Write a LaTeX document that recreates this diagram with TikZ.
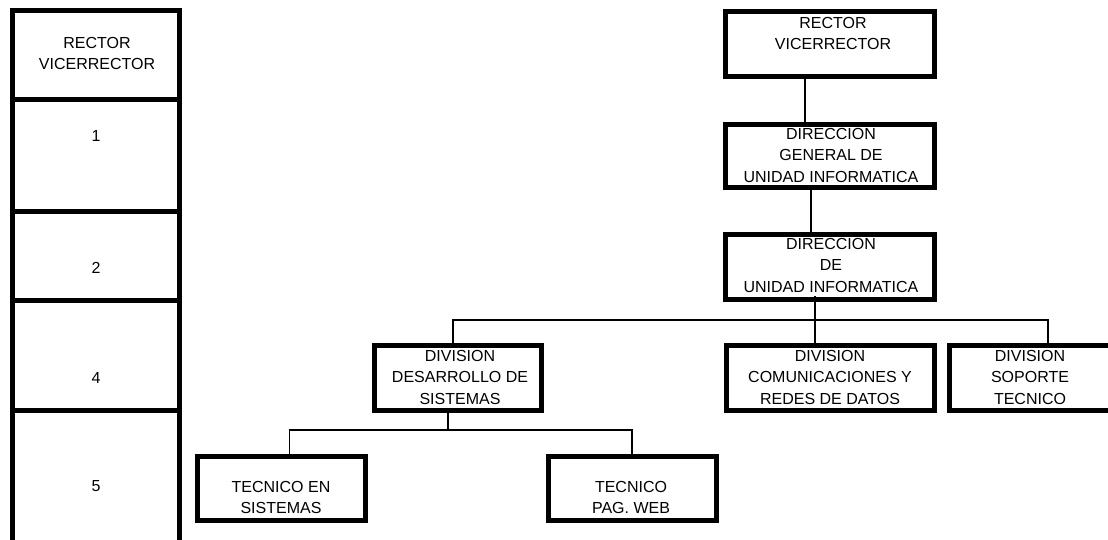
\documentclass[tikz,border=0pt]{standalone}
\usepackage{fontspec}
\setmainfont{Liberation Sans}
\begin{document}
\begin{tikzpicture}[x=1pt,y=-1pt,
  box/.style={draw=black, line width=5pt, inner sep=0pt, fill=white},
  lbl/.style={font=\fontsize{16}{21.5}\selectfont, align=center, inner sep=0pt, anchor=north},
  conn/.style={draw=black, line width=1.6pt}]
\fill[white] (0,0) rectangle (1108,540);
\useasboundingbox (0,0) rectangle (1108,540);
% connectors first (boxes drawn over their ends)
% left column
\node[box, minimum width=167.5pt, minimum height=89pt] (r0) at (95.75,55.5) {};
\node[box, minimum width=167.5pt, minimum height=112pt] (r1) at (95.75,156) {};
\node[box, minimum width=167.5pt, minimum height=88.5pt] (r2) at (95.75,256.25) {};
\node[box, minimum width=167.5pt, minimum height=109.5pt] (r3) at (95.75,355.25) {};
\node[box, minimum width=167.5pt, minimum height=140pt] (r4) at (95.75,480) {};
\node[lbl] (t0) at (97,37) {RECTOR\\VICERRECTOR};
\node[lbl] (t1) at (96,130) {1};
\node[lbl] (t2) at (96,262) {2};
\node[lbl] (t3) at (96,372) {4};
\node[lbl] (t4) at (96,480) {5};
% org chart boxes
\node[box, minimum width=209pt, minimum height=65pt] (rector) at (830,44) {};
\node[box, minimum width=209pt, minimum height=63pt] (dgui) at (830,156) {};
\node[box, minimum width=209pt, minimum height=65pt] (dui) at (830,267) {};
\node[box, minimum width=167pt, minimum height=64.5pt] (desa) at (458,377.75) {};
\node[box, minimum width=208pt, minimum height=64.5pt] (com) at (830.5,377.75) {};
\node[box, minimum width=168pt, minimum height=64.5pt] (sop) at (1033,377.75) {};
\node[box, minimum width=168pt, minimum height=64pt] (tes) at (281,488) {};
\node[box, minimum width=168pt, minimum height=64pt] (tweb) at (632.25,488) {};
% connectors
\coordinate (busL) at (453,320);
\coordinate (busR) at (1048,320);
\coordinate (subM) at (448,430);
\coordinate (subL) at (289.5,430);
\coordinate (subR) at (632,430);
\draw[conn] ([xshift=-25pt,yshift=3.5pt]rector.south) -- ([xshift=-25pt]dgui.north);
\draw[conn] ([xshift=-19pt]dgui.south) -- ([xshift=-19pt]dui.north);
\draw[conn] ([xshift=-15pt,yshift=6pt]dui.south) -- ([xshift=-15.5pt]com.north);
\draw[conn] (busL |- desa.north) -- (busL) -- (busR) -- (busR |- sop.north);
\draw[conn] (desa.south -| subM) -- (subM);
\draw[conn] (subL |- tes.north) -- (subL) -- (subR) -- (subR |- tweb.north);
% labels
\node[lbl] (l1) at (833,17) {RECTOR\\VICERRECTOR};
\node[lbl] (l2) at (831,128) {DIRECCION\\GENERAL DE\\UNIDAD INFORMATICA};
\node[lbl] (l3) at (831,238) {DIRECCION\\DE\\UNIDAD INFORMATICA};
\node[lbl] (l4) at (460,350) {DIVISION\\DESARROLLO DE\\SISTEMAS};
\node[lbl] (l5) at (830,350) {DIVISION\\COMUNICACIONES Y\\REDES DE DATOS};
\node[lbl] (l6) at (1030,350) {DIVISION\\SOPORTE\\TECNICO};
\node[lbl] (l7) at (281,481) {TECNICO EN\\SISTEMAS};
\node[lbl] (l8) at (631,481) {TECNICO\\PAG. WEB};
\end{tikzpicture}
\end{document}
